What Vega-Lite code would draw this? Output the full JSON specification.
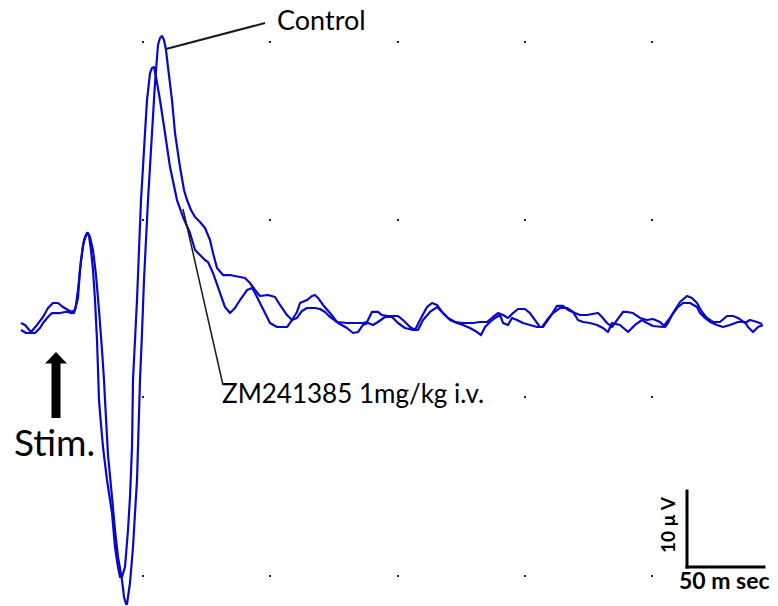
{
  "$schema": "https://vega.github.io/schema/vega-lite/v6.json",
  "width": 778,
  "height": 606,
  "autosize": {"type": "fit", "contains": "padding"},
  "padding": 0,
  "background": "white",
  "config": {"view": {"stroke": null}, "axis": {"disable": true}},
  "datasets": {
    "trace": [
      {"t":0.65,"v":-0.13,"g":"Control"},{"t":3.25,"v":-0.39,"g":"Control"},{"t":7.15,"v":-1.32,"g":"Control"},{"t":11.05,"v":-0.39,"g":"Control"},{"t":14.95,"v":0.66,"g":"Control"},{"t":18.2,"v":1.84,"g":"Control"},{"t":21.45,"v":2.5,"g":"Control"},{"t":24.7,"v":2.5,"g":"Control"},{"t":27.95,"v":1.97,"g":"Control"},{"t":31.2,"v":1.58,"g":"Control"},{"t":33.8,"v":1.32,"g":"Control"},{"t":35.75,"v":1.58,"g":"Control"},{"t":37.7,"v":3.16,"g":"Control"},{"t":39,"v":6.84,"g":"Control"},{"t":40.95,"v":10.13,"g":"Control"},{"t":42.9,"v":11.45,"g":"Control"},{"t":44.2,"v":11.71,"g":"Control"},{"t":45.5,"v":11.18,"g":"Control"},{"t":47.45,"v":9.47,"g":"Control"},{"t":49.4,"v":6.18,"g":"Control"},{"t":51.35,"v":1.58,"g":"Control"},{"t":53.3,"v":-3.68,"g":"Control"},{"t":54.6,"v":-7.63,"g":"Control"},{"t":55.25,"v":-10.26,"g":"Control"},{"t":57.2,"v":-17.5,"g":"Control"},{"t":59.8,"v":-23.03,"g":"Control"},{"t":61.75,"v":-27.37,"g":"Control"},{"t":63.7,"v":-30.92,"g":"Control"},{"t":66.3,"v":-33.95,"g":"Control"},{"t":67.6,"v":-36.18,"g":"Control"},{"t":68.9,"v":-37.11,"g":"Control"},{"t":69.55,"v":-37.11,"g":"Control"},{"t":71.5,"v":-34.34,"g":"Control"},{"t":73.45,"v":-29.61,"g":"Control"},{"t":74.75,"v":-25.13,"g":"Control"},{"t":76.05,"v":-20.79,"g":"Control"},{"t":76.7,"v":-16.45,"g":"Control"},{"t":78,"v":-7.63,"g":"Control"},{"t":79.3,"v":-1.45,"g":"Control"},{"t":80.6,"v":5.53,"g":"Control"},{"t":81.9,"v":10.79,"g":"Control"},{"t":83.2,"v":16.05,"g":"Control"},{"t":85.8,"v":24.87,"g":"Control"},{"t":87.75,"v":31.45,"g":"Control"},{"t":89.7,"v":36.45,"g":"Control"},{"t":91,"v":37.37,"g":"Control"},{"t":92.3,"v":37.63,"g":"Control"},{"t":93.6,"v":37.11,"g":"Control"},{"t":94.9,"v":35.79,"g":"Control"},{"t":96.2,"v":33.55,"g":"Control"},{"t":98.8,"v":29.21,"g":"Control"},{"t":100.75,"v":24.87,"g":"Control"},{"t":104,"v":20.39,"g":"Control"},{"t":106.6,"v":17.37,"g":"Control"},{"t":108.55,"v":16.05,"g":"Control"},{"t":111.15,"v":14.74,"g":"Control"},{"t":113.75,"v":13.82,"g":"Control"},{"t":117,"v":13.16,"g":"Control"},{"t":120.25,"v":12.37,"g":"Control"},{"t":123.5,"v":10.79,"g":"Control"},{"t":125.45,"v":9.08,"g":"Control"},{"t":128.05,"v":7.11,"g":"Control"},{"t":131.95,"v":6.18,"g":"Control"},{"t":136.5,"v":6.18,"g":"Control"},{"t":143,"v":5.92,"g":"Control"},{"t":146.25,"v":5.79,"g":"Control"},{"t":149.5,"v":5.13,"g":"Control"},{"t":152.75,"v":4.21,"g":"Control"},{"t":156,"v":3.42,"g":"Control"},{"t":161.2,"v":3.55,"g":"Control"},{"t":165.75,"v":3.29,"g":"Control"},{"t":169,"v":2.24,"g":"Control"},{"t":173.55,"v":0.92,"g":"Control"},{"t":176.8,"v":0.26,"g":"Control"},{"t":180.05,"v":0.53,"g":"Control"},{"t":183.3,"v":1.45,"g":"Control"},{"t":186.55,"v":1.84,"g":"Control"},{"t":191.75,"v":1.84,"g":"Control"},{"t":195,"v":1.71,"g":"Control"},{"t":198.25,"v":1.32,"g":"Control"},{"t":201.5,"v":0.66,"g":"Control"},{"t":206.7,"v":-0.13,"g":"Control"},{"t":212.55,"v":-0.79,"g":"Control"},{"t":216.45,"v":-1.45,"g":"Control"},{"t":219.7,"v":-1.32,"g":"Control"},{"t":222.95,"v":-0.39,"g":"Control"},{"t":226.2,"v":-0.13,"g":"Control"},{"t":229.45,"v":-0.39,"g":"Control"},{"t":232.7,"v":0,"g":"Control"},{"t":237.25,"v":0.66,"g":"Control"},{"t":241.8,"v":0.66,"g":"Control"},{"t":245.7,"v":-0.13,"g":"Control"},{"t":250.25,"v":-0.79,"g":"Control"},{"t":255.45,"v":-1.05,"g":"Control"},{"t":258.7,"v":-1.05,"g":"Control"},{"t":261.95,"v":0.26,"g":"Control"},{"t":266.5,"v":1.32,"g":"Control"},{"t":271.05,"v":1.97,"g":"Control"},{"t":274.95,"v":1.18,"g":"Control"},{"t":279.5,"v":0.26,"g":"Control"},{"t":284.05,"v":-0.13,"g":"Control"},{"t":287.95,"v":-0.39,"g":"Control"},{"t":292.5,"v":-0.79,"g":"Control"},{"t":297.05,"v":-1.32,"g":"Control"},{"t":299.65,"v":-1.71,"g":"Control"},{"t":302.25,"v":-0.66,"g":"Control"},{"t":305.5,"v":0,"g":"Control"},{"t":308.75,"v":0.53,"g":"Control"},{"t":312,"v":0.92,"g":"Control"},{"t":313.95,"v":-0.13,"g":"Control"},{"t":317.2,"v":-0.39,"g":"Control"},{"t":319.8,"v":0.53,"g":"Control"},{"t":323.05,"v":0.26,"g":"Control"},{"t":326.95,"v":-0.13,"g":"Control"},{"t":331.5,"v":-0.39,"g":"Control"},{"t":336.05,"v":-0.66,"g":"Control"},{"t":339.3,"v":-0.66,"g":"Control"},{"t":342.55,"v":0.26,"g":"Control"},{"t":346.45,"v":1.18,"g":"Control"},{"t":351,"v":1.84,"g":"Control"},{"t":355.55,"v":1.84,"g":"Control"},{"t":359.45,"v":1.32,"g":"Control"},{"t":362.7,"v":0.26,"g":"Control"},{"t":365.95,"v":0,"g":"Control"},{"t":370.5,"v":-0.13,"g":"Control"},{"t":375.05,"v":-0.39,"g":"Control"},{"t":378.95,"v":-0.79,"g":"Control"},{"t":382.2,"v":-1.32,"g":"Control"},{"t":384.8,"v":-0.13,"g":"Control"},{"t":390,"v":-0.39,"g":"Control"},{"t":395.2,"v":-1.32,"g":"Control"},{"t":399.75,"v":-0.39,"g":"Control"},{"t":404.3,"v":0.26,"g":"Control"},{"t":407.55,"v":-0.13,"g":"Control"},{"t":411.45,"v":-0.53,"g":"Control"},{"t":417.95,"v":-0.66,"g":"Control"},{"t":422.5,"v":0.53,"g":"Control"},{"t":427.05,"v":1.84,"g":"Control"},{"t":430.95,"v":2.5,"g":"Control"},{"t":435.5,"v":2.5,"g":"Control"},{"t":440.05,"v":1.97,"g":"Control"},{"t":442,"v":1.18,"g":"Control"},{"t":445.25,"v":0.53,"g":"Control"},{"t":448.5,"v":0,"g":"Control"},{"t":453.05,"v":-0.39,"g":"Control"},{"t":456.95,"v":-0.66,"g":"Control"},{"t":461.5,"v":-0.39,"g":"Control"},{"t":466.7,"v":0,"g":"Control"},{"t":471.25,"v":0,"g":"Control"},{"t":473.2,"v":-0.66,"g":"Control"},{"t":476.45,"v":-1.32,"g":"Control"},{"t":479.7,"v":-0.66,"g":"Control"},{"t":482.95,"v":-0.39,"g":"Control"},
      {"t":0.65,"v":-1.05,"g":"ZM241385"},{"t":3.9,"v":-1.45,"g":"ZM241385"},{"t":6.5,"v":-1.45,"g":"ZM241385"},{"t":9.75,"v":-1.45,"g":"ZM241385"},{"t":13,"v":-0.79,"g":"ZM241385"},{"t":14.95,"v":-0.13,"g":"ZM241385"},{"t":18.2,"v":0.66,"g":"ZM241385"},{"t":20.8,"v":1.18,"g":"ZM241385"},{"t":23.4,"v":1.18,"g":"ZM241385"},{"t":26,"v":1.18,"g":"ZM241385"},{"t":29.25,"v":1.32,"g":"ZM241385"},{"t":31.2,"v":1.32,"g":"ZM241385"},{"t":33.15,"v":1.18,"g":"ZM241385"},{"t":35.1,"v":1.18,"g":"ZM241385"},{"t":36.4,"v":2.24,"g":"ZM241385"},{"t":37.7,"v":4.21,"g":"ZM241385"},{"t":39.65,"v":8.16,"g":"ZM241385"},{"t":41.6,"v":10.79,"g":"ZM241385"},{"t":43.55,"v":11.71,"g":"ZM241385"},{"t":44.85,"v":11.32,"g":"ZM241385"},{"t":46.15,"v":9.47,"g":"ZM241385"},{"t":47.45,"v":6.84,"g":"ZM241385"},{"t":48.75,"v":2.89,"g":"ZM241385"},{"t":50.05,"v":-2.37,"g":"ZM241385"},{"t":50.7,"v":-6.32,"g":"ZM241385"},{"t":51.35,"v":-10.26,"g":"ZM241385"},{"t":52,"v":-11.97,"g":"ZM241385"},{"t":53.95,"v":-16.45,"g":"ZM241385"},{"t":56.55,"v":-20.79,"g":"ZM241385"},{"t":59.8,"v":-25.13,"g":"ZM241385"},{"t":61.75,"v":-29.61,"g":"ZM241385"},{"t":63.7,"v":-32.24,"g":"ZM241385"},{"t":65,"v":-33.55,"g":"ZM241385"},{"t":66.3,"v":-33.55,"g":"ZM241385"},{"t":68.25,"v":-32.24,"g":"ZM241385"},{"t":70.2,"v":-27.37,"g":"ZM241385"},{"t":71.5,"v":-23.03,"g":"ZM241385"},{"t":72.8,"v":-16.45,"g":"ZM241385"},{"t":73.45,"v":-7.63,"g":"ZM241385"},{"t":74.75,"v":-2.37,"g":"ZM241385"},{"t":76.05,"v":2.89,"g":"ZM241385"},{"t":77.35,"v":9.47,"g":"ZM241385"},{"t":78.65,"v":16.05,"g":"ZM241385"},{"t":79.95,"v":20.39,"g":"ZM241385"},{"t":81.25,"v":24.87,"g":"ZM241385"},{"t":82.55,"v":29.21,"g":"ZM241385"},{"t":84.5,"v":32.76,"g":"ZM241385"},{"t":85.8,"v":33.42,"g":"ZM241385"},{"t":87.1,"v":33.55,"g":"ZM241385"},{"t":88.4,"v":32.24,"g":"ZM241385"},{"t":91,"v":29.21,"g":"ZM241385"},{"t":94.25,"v":24.87,"g":"ZM241385"},{"t":97.5,"v":20.39,"g":"ZM241385"},{"t":102.05,"v":16.05,"g":"ZM241385"},{"t":105.95,"v":13.82,"g":"ZM241385"},{"t":110.5,"v":11.71,"g":"ZM241385"},{"t":113.75,"v":9.47,"g":"ZM241385"},{"t":117,"v":8.82,"g":"ZM241385"},{"t":120.25,"v":8.16,"g":"ZM241385"},{"t":122.2,"v":7.89,"g":"ZM241385"},{"t":125.45,"v":6.45,"g":"ZM241385"},{"t":130,"v":3.82,"g":"ZM241385"},{"t":133.25,"v":1.97,"g":"ZM241385"},{"t":136.5,"v":1.18,"g":"ZM241385"},{"t":139.75,"v":1.84,"g":"ZM241385"},{"t":143,"v":2.89,"g":"ZM241385"},{"t":147.55,"v":4.21,"g":"ZM241385"},{"t":150.8,"v":4.47,"g":"ZM241385"},{"t":152.75,"v":3.82,"g":"ZM241385"},{"t":156,"v":2.5,"g":"ZM241385"},{"t":159.25,"v":1.18,"g":"ZM241385"},{"t":162.5,"v":-0.13,"g":"ZM241385"},{"t":167.05,"v":-0.66,"g":"ZM241385"},{"t":173.55,"v":-0.66,"g":"ZM241385"},{"t":176.8,"v":0.26,"g":"ZM241385"},{"t":180.05,"v":1.32,"g":"ZM241385"},{"t":182,"v":2.5,"g":"ZM241385"},{"t":186.55,"v":2.89,"g":"ZM241385"},{"t":189.8,"v":3.42,"g":"ZM241385"},{"t":191.75,"v":3.55,"g":"ZM241385"},{"t":193.7,"v":3.16,"g":"ZM241385"},{"t":196.95,"v":2.24,"g":"ZM241385"},{"t":201.5,"v":1.18,"g":"ZM241385"},{"t":206.05,"v":0,"g":"ZM241385"},{"t":212.55,"v":-0.13,"g":"ZM241385"},{"t":217.75,"v":-0.13,"g":"ZM241385"},{"t":222.95,"v":-0.13,"g":"ZM241385"},{"t":225.55,"v":0,"g":"ZM241385"},{"t":228.8,"v":1.32,"g":"ZM241385"},{"t":232.7,"v":1.32,"g":"ZM241385"},{"t":235.3,"v":0.92,"g":"ZM241385"},{"t":239.2,"v":0.79,"g":"ZM241385"},{"t":245.7,"v":0.79,"g":"ZM241385"},{"t":248.95,"v":0.26,"g":"ZM241385"},{"t":253.5,"v":-0.66,"g":"ZM241385"},{"t":256.75,"v":-1.05,"g":"ZM241385"},{"t":260,"v":0.26,"g":"ZM241385"},{"t":264.55,"v":1.97,"g":"ZM241385"},{"t":267.8,"v":2.5,"g":"ZM241385"},{"t":271.05,"v":2.24,"g":"ZM241385"},{"t":274.3,"v":1.32,"g":"ZM241385"},{"t":278.2,"v":0.53,"g":"ZM241385"},{"t":282.75,"v":0,"g":"ZM241385"},{"t":287.95,"v":-0.13,"g":"ZM241385"},{"t":294.45,"v":-0.13,"g":"ZM241385"},{"t":299,"v":0,"g":"ZM241385"},{"t":303.55,"v":0,"g":"ZM241385"},{"t":307.45,"v":0.66,"g":"ZM241385"},{"t":310.7,"v":1.18,"g":"ZM241385"},{"t":313.95,"v":0.92,"g":"ZM241385"},{"t":317.2,"v":0.53,"g":"ZM241385"},{"t":320.45,"v":1.18,"g":"ZM241385"},{"t":323.7,"v":1.71,"g":"ZM241385"},{"t":328.25,"v":1.71,"g":"ZM241385"},{"t":331.5,"v":1.18,"g":"ZM241385"},{"t":334.75,"v":0.26,"g":"ZM241385"},{"t":338,"v":-0.66,"g":"ZM241385"},{"t":339.95,"v":-0.66,"g":"ZM241385"},{"t":344.5,"v":0.66,"g":"ZM241385"},{"t":349.05,"v":2.11,"g":"ZM241385"},{"t":352.95,"v":2.11,"g":"ZM241385"},{"t":356.2,"v":1.58,"g":"ZM241385"},{"t":360.75,"v":1.18,"g":"ZM241385"},{"t":364,"v":0.92,"g":"ZM241385"},{"t":368.55,"v":0.92,"g":"ZM241385"},{"t":375.7,"v":1.18,"g":"ZM241385"},{"t":378.3,"v":0.66,"g":"ZM241385"},{"t":381.55,"v":-0.13,"g":"ZM241385"},{"t":384.8,"v":-0.66,"g":"ZM241385"},{"t":388.05,"v":0.26,"g":"ZM241385"},{"t":391.95,"v":1.32,"g":"ZM241385"},{"t":394.55,"v":1.32,"g":"ZM241385"},{"t":398.45,"v":1.18,"g":"ZM241385"},{"t":403,"v":0.53,"g":"ZM241385"},{"t":407.55,"v":0.26,"g":"ZM241385"},{"t":411.45,"v":0.39,"g":"ZM241385"},{"t":416,"v":0,"g":"ZM241385"},{"t":419.25,"v":-0.66,"g":"ZM241385"},{"t":421.2,"v":-0.13,"g":"ZM241385"},{"t":424.45,"v":1.18,"g":"ZM241385"},{"t":429,"v":2.63,"g":"ZM241385"},{"t":433.55,"v":3.42,"g":"ZM241385"},{"t":436.8,"v":3.16,"g":"ZM241385"},{"t":440.05,"v":2.5,"g":"ZM241385"},{"t":443.3,"v":1.32,"g":"ZM241385"},{"t":446.55,"v":0.53,"g":"ZM241385"},{"t":450.45,"v":0,"g":"ZM241385"},{"t":455,"v":0,"g":"ZM241385"},{"t":459.55,"v":0.79,"g":"ZM241385"},{"t":463.45,"v":0.79,"g":"ZM241385"},{"t":466.7,"v":0.53,"g":"ZM241385"},{"t":471.25,"v":-0.13,"g":"ZM241385"},{"t":474.5,"v":0.26,"g":"ZM241385"},{"t":479.05,"v":0,"g":"ZM241385"},{"t":482.3,"v":-0.26,"g":"ZM241385"}
    ],
    "grid": [
      {"gx":79.95,"gy":36.84},{"gx":162.5,"gy":36.84},{"gx":245.7,"gy":36.84},{"gx":328.25,"gy":36.84},{"gx":410.8,"gy":36.84},
      {"gx":79.95,"gy":13.42},{"gx":162.5,"gy":13.42},{"gx":245.7,"gy":13.42},{"gx":328.25,"gy":13.42},{"gx":410.8,"gy":13.42},
      {"gx":79.95,"gy":-9.87},{"gx":162.5,"gy":-9.87},{"gx":245.7,"gy":-9.87},{"gx":328.25,"gy":-9.87},{"gx":410.8,"gy":-9.87},
      {"gx":79.95,"gy":-33.42},{"gx":162.5,"gy":-33.42},{"gx":245.7,"gy":-33.42},{"gx":328.25,"gy":-33.42},{"gx":410.8,"gy":-33.42}
    ]
  },
  "layer": [
    {
      "data": {"name": "grid"},
      "mark": {"type": "square", "color": "#222222", "size": 4, "opacity": 1},
      "encoding": {
        "x": {"field": "gx", "type": "quantitative", "scale": {"domain": [-13, 492.7], "nice": false, "zero": false}, "axis": null},
        "y": {"field": "gy", "type": "quantitative", "scale": {"domain": [-37.37, 42.37], "nice": false, "zero": false}, "axis": null}
      }
    },
    {
      "data": {"name": "trace"},
      "mark": {"type": "line", "color": "#0808cc", "strokeWidth": 2.2, "strokeJoin": "round"},
      "encoding": {
        "x": {"field": "t", "type": "quantitative", "scale": {"domain": [-13, 492.7], "nice": false, "zero": false}, "axis": null},
        "y": {"field": "v", "type": "quantitative", "scale": {"domain": [-37.37, 42.37], "nice": false, "zero": false}, "axis": null},
        "detail": {"field": "g", "type": "nominal"}
      }
    },
    {
      "data": {"values": [{}]},
      "layer": [
        {
          "mark": {"type": "rule", "color": "#1a1a1a", "strokeWidth": 2},
          "encoding": {"x": {"datum": 94.9, "type": "quantitative"}, "y": {"datum": 35.92, "type": "quantitative"}, "x2": {"datum": 159.25}, "y2": {"datum": 39.34}}
        },
        {
          "mark": {"type": "rule", "color": "#1a1a1a", "strokeWidth": 1.5},
          "encoding": {"x": {"datum": 105.95, "type": "quantitative"}, "y": {"datum": 14.87, "type": "quantitative"}, "x2": {"datum": 131.95}, "y2": {"datum": -8.29}}
        },
        {
          "mark": {"type": "rule", "color": "black", "strokeWidth": 3, "strokeCap": "square"},
          "encoding": {"x": {"datum": 433.55, "type": "quantitative"}, "y": {"datum": -22.24, "type": "quantitative"}, "y2": {"datum": -32.24}}
        },
        {
          "mark": {"type": "rule", "color": "black", "strokeWidth": 3, "strokeCap": "square"},
          "encoding": {"x": {"datum": 433.55, "type": "quantitative"}, "x2": {"datum": 483.6}, "y": {"datum": -32.24, "type": "quantitative"}}
        },
        {
          "mark": {"type": "rule", "color": "black", "strokeWidth": 9},
          "encoding": {"x": {"datum": 23.4, "type": "quantitative"}, "y": {"datum": -5.26, "type": "quantitative"}, "y2": {"datum": -12.63}}
        },
        {
          "mark": {"type": "point", "shape": "M0,-0.55L1,0.5L-1,0.5Z", "filled": true, "color": "black", "opacity": 1, "size": 484},
          "encoding": {"x": {"datum": 23.4, "type": "quantitative"}, "y": {"datum": -4.74, "type": "quantitative"}}
        },
        {
          "mark": {"type": "text", "font": "Lato", "fontSize": 27, "align": "left", "baseline": "middle", "color": "black"},
          "encoding": {"x": {"datum": 167.05, "type": "quantitative"}, "y": {"datum": 39.47, "type": "quantitative"}, "text": {"value": "Control"}}
        },
        {
          "mark": {"type": "text", "font": "Lato", "fontSize": 26, "align": "left", "baseline": "middle", "color": "black"},
          "encoding": {"x": {"datum": 131.3, "type": "quantitative"}, "y": {"datum": -9.61, "type": "quantitative"}, "text": {"value": "ZM241385 1mg/kg i.v."}}
        },
        {
          "mark": {"type": "text", "font": "Lato", "fontSize": 37, "align": "left", "baseline": "middle", "color": "black"},
          "encoding": {"x": {"datum": -3.9, "type": "quantitative"}, "y": {"datum": -16.18, "type": "quantitative"}, "text": {"value": "Stim."}}
        },
        {
          "mark": {"type": "text", "font": "Lato", "fontSize": 19, "fontWeight": "bold", "align": "center", "baseline": "middle", "angle": 270, "color": "black"},
          "encoding": {"x": {"datum": 421.85, "type": "quantitative"}, "y": {"datum": -26.71, "type": "quantitative"}, "text": {"value": "10 μ V"}}
        },
        {
          "mark": {"type": "text", "font": "Lato", "fontSize": 23, "fontWeight": "bold", "align": "left", "baseline": "middle", "color": "black"},
          "encoding": {"x": {"datum": 428.35, "type": "quantitative"}, "y": {"datum": -34.21, "type": "quantitative"}, "text": {"value": "50 m sec"}}
        }
      ]
    }
  ]
}
